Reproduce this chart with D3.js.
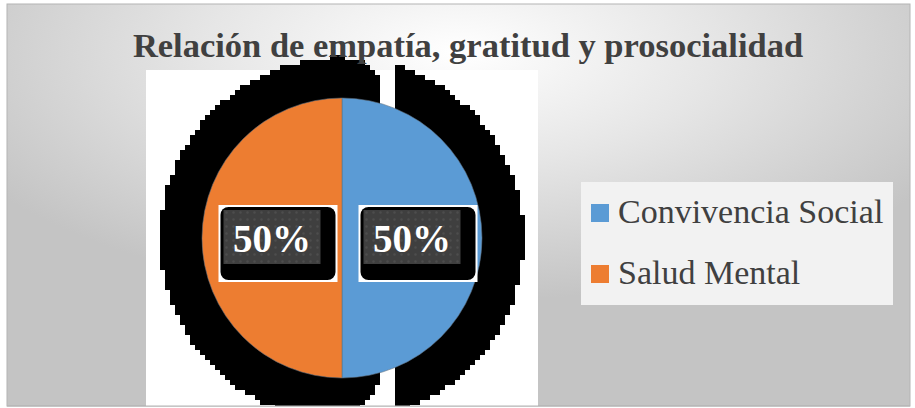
<!DOCTYPE html>
<html>
<head>
<meta charset="utf-8">
<script src="https://cdn.jsdelivr.net/npm/d3@7"></script>
<style>
  html, body { margin: 0; padding: 0; background: #ffffff; }
  svg { display: block; }
</style>
</head>
<body>
<svg id="chart" width="915" height="408"></svg>
<script>
// ---- data ----
const categories = ["Convivencia Social", "Salud Mental"];
const values = [50, 50];
const colors = ["#5B9BD5", "#ED7D31"];
const title = "Relación de empatía, gratitud y prosocialidad";

const FONT = "'Liberation Serif', 'Times New Roman', Times, serif";
const W = 915, H = 408;
const svg = d3.select("#chart");
const defs = svg.append("defs");

// background gradient
const grad = defs.append("radialGradient").attr("id", "bg")
  .attr("cx", "0.5").attr("cy", "0.12").attr("r", "0.62").attr("fx", "0.5").attr("fy", "0.12");
grad.append("stop").attr("offset", "0").attr("stop-color", "#ffffff");
grad.append("stop").attr("offset", "0.45").attr("stop-color", "#e6e6e6");
grad.append("stop").attr("offset", "1").attr("stop-color", "#c4c4c4");

// dotted texture for label boxes
const pat = defs.append("pattern").attr("id", "dots").attr("patternUnits", "userSpaceOnUse")
  .attr("width", 7).attr("height", 7);
pat.append("rect").attr("width", 7).attr("height", 7).attr("fill", "#3f3f3f");
pat.append("circle").attr("cx", 3.5).attr("cy", 3.5).attr("r", 1.2).attr("fill", "#4d4d4d");

const frame = {x: 7, y: 4, w: 903, h: 402};
svg.append("rect").attr("x", frame.x).attr("y", frame.y).attr("width", frame.w).attr("height", frame.h)
  .attr("fill", "url(#bg)").attr("stroke", "#b4b4b4").attr("stroke-width", 1);

// plot area
const plot = {x: 146, y: 70, w: 392, h: 336};
svg.append("rect").attr("x", plot.x).attr("y", plot.y).attr("width", plot.w).attr("height", plot.h)
  .attr("fill", "#ffffff");

// pie geometry
const cx = 342, cy = 238, r = 140;

// black shadow (pixelated artifact of the shadow effect), built on a coarse grid
const rs = r * 1.3;
const scy = cy + 1;
const leftEdge = cx + 40, rightStart = cx + 55;
const topC = {x: cx - 4, y: scy - rs + 28, rx: 44, ry: 28};
const botC = {x: cx - 4, y: cy + 127, rx: 44, ry: 50};
function inShadow(x, y) {
  const dx = x - cx, dy = y - scy;
  if (dx * dx + dy * dy > rs * rs) return false;
  if (x >= rightStart) return true;
  if (x >= leftEdge) return false;
  if (x > topC.x && y < topC.y) {
    const e = ((x - topC.x) / topC.rx) ** 2 + ((y - topC.y) / topC.ry) ** 2;
    if (e > 1) return false;
  }
  if (x > botC.x && y > botC.y) {
    const e = ((x - botC.x) / botC.rx) ** 2 + ((y - botC.y) / botC.ry) ** 2;
    if (e > 1) return false;
  }
  return true;
}
const step = 5;
let sp = "";
for (let y = 40; y < frame.y + frame.h; y += step) {
  let runStart = null;
  for (let x = 140; x <= 545; x += step) {
    const inside = x < 545 && inShadow(x + step / 2, y + step / 2);
    if (inside && runStart === null) runStart = x;
    if (!inside && runStart !== null) {
      const hh = Math.min(step, frame.y + frame.h - y);
      sp += `M${runStart},${y}h${x - runStart}v${hh}h${runStart - x}Z`;
      runStart = null;
    }
  }
}
svg.append("path").attr("d", sp).attr("fill", "#000").attr("shape-rendering", "crispEdges");

// keep the frame border visible over the shadow
svg.append("line").attr("x1", frame.x).attr("x2", frame.x + frame.w)
  .attr("y1", frame.y + frame.h).attr("y2", frame.y + frame.h).attr("stroke", "#b4b4b4");

const g = svg.append("g").attr("transform", `translate(${cx},${cy})`);
const pie = d3.pie().sort(null).value(d => d)(values);
const arc = d3.arc().innerRadius(0).outerRadius(r);
g.selectAll("path.slice").data(pie).join("path").attr("class", "slice")
  .attr("d", arc).attr("fill", (d, i) => colors[i])
  .attr("stroke", "#5f6f80").attr("stroke-width", 0.8).attr("stroke-opacity", 0.7);

// data labels
const bw = 97, bh = 54;
const lab = g.selectAll("g.lab").data(pie).join("g").attr("class", "lab")
  .attr("transform", d => {
    const c = arc.centroid(d);
    const x = c[0] > 0 ? r * 0.5 : -r * 0.5;
    return `translate(${x},${-1})`;
  });
lab.append("rect").attr("x", -bw / 2 - 5).attr("y", -bh / 2 - 5).attr("width", bw + 22).attr("height", bh + 23)
  .attr("fill", "#ffffff");
lab.append("rect").attr("x", -bw / 2 - 3).attr("y", -bh / 2 - 3).attr("width", bw + 18).attr("height", bh + 19)
  .attr("rx", 8).attr("fill", "#000000");
lab.append("rect").attr("x", -bw / 2).attr("y", -bh / 2).attr("width", bw).attr("height", bh)
  .attr("fill", "url(#dots)");
lab.append("text").attr("x", 0).attr("y", 15)
  .attr("text-anchor", "middle")
  .attr("font-family", FONT)
  .attr("font-weight", "bold").attr("font-size", 39).attr("fill", "#ffffff")
  .text(d => Math.round(d.data / d3.sum(values) * 100) + "%");

// title
svg.append("text").attr("x", 468).attr("y", 57).attr("text-anchor", "middle")
  .attr("font-family", FONT)
  .attr("font-weight", "bold").attr("font-size", 34.5).attr("fill", "#404040")
  .text(title);

// legend
svg.append("rect").attr("x", 581).attr("y", 182).attr("width", 312).attr("height", 123).attr("fill", "#f2f2f2");
const leg = svg.selectAll("g.leg").data(categories).join("g").attr("class", "leg")
  .attr("transform", (d, i) => `translate(591,${204 + i * 61})`);
leg.append("rect").attr("width", 18).attr("height", 18).attr("fill", (d, i) => colors[i]);
leg.append("text").attr("x", 27).attr("y", 19)
  .attr("font-family", FONT)
  .attr("font-size", 34).attr("fill", "#404040").text(d => d);
</script>
</body>
</html>
